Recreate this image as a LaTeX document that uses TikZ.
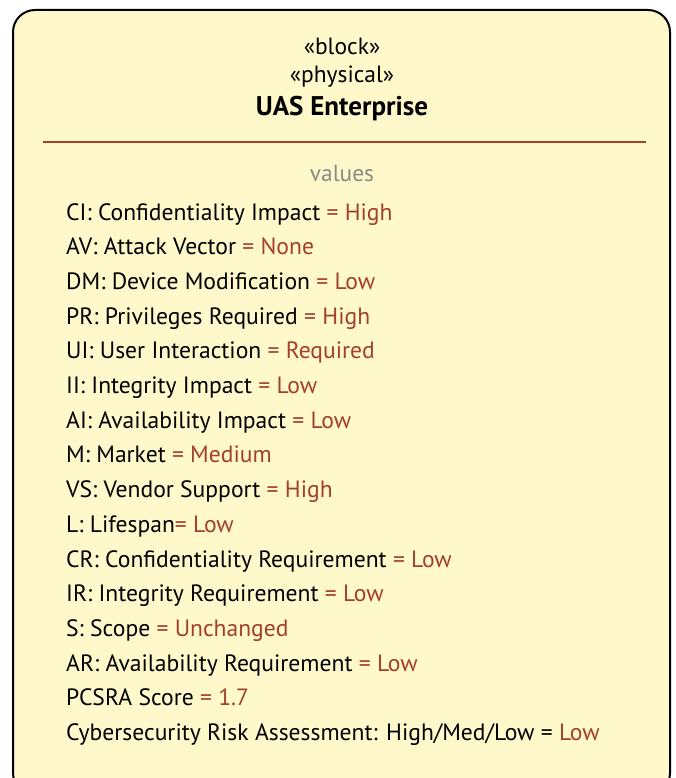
\documentclass[tikz,border=0pt]{standalone}
\usepackage{fontspec}
\setmainfont{PT Sans}
\definecolor{fillc}{HTML}{FFF8CB}
\definecolor{valc}{HTML}{A3402B}
\definecolor{grayc}{HTML}{8A8A8A}
\definecolor{sepc}{HTML}{A8412C}
\tikzset{
  hdr/.style={anchor=base, inner sep=0pt, font=\fontsize{23.5}{27}\selectfont},
  ttl/.style={anchor=base, inner sep=0pt, font=\fontsize{27}{31}\selectfont\bfseries},
  vhdr/.style={anchor=base, inner sep=0pt, text=grayc, font=\fontsize{23.4}{27}\selectfont},
  entry/.style={anchor=base west, inner sep=0pt, font=\fontsize{23.6}{27}\selectfont},
}
\newcommand{\vv}[1]{\textcolor{valc}{#1}}
\begin{document}
\begin{tikzpicture}[x=1pt,y=-1pt]
\useasboundingbox (0,0) rectangle (675,778);
\draw[line width=2pt, fill=fillc, rounded corners=22pt] (13,10) rectangle (670,795);
\node[hdr] (st1) at (342,55) {«block»};
\node[hdr] (st2) at (342,83) {«physical»};
\node[ttl] (name) at (342,116) {UAS Enterprise};
\coordinate (sepL) at (43,142);
\coordinate (sepR) at (646,142);
\draw[sepc, line width=1.8pt] (sepL) -- (sepR);
\node[vhdr] (vals) at (342,181) {values};
\node[entry] (l1) at (66,220) {CI: Confidentiality Impact \vv{= High}};
\node[entry] (l2) at (66,254.7) {AV: Attack Vector \vv{= None}};
\node[entry] (l3) at (66,289.4) {DM: Device Modification \vv{= Low}};
\node[entry] (l4) at (66,324.1) {PR: Privileges Required \vv{= High}};
\node[entry] (l5) at (66,358.8) {UI: User Interaction \vv{= Required}};
\node[entry] (l6) at (66,393.5) {II: Integrity Impact \vv{= Low}};
\node[entry] (l7) at (66,428.2) {AI: Availability Impact \vv{= Low}};
\node[entry] (l8) at (66,462.9) {M: Market \vv{= Medium}};
\node[entry] (l9) at (66,497.6) {VS: Vendor Support \vv{= High}};
\node[entry] (l10) at (66,532.3) {L: Lifespan\vv{= Low}};
\node[entry] (l11) at (66,567.0) {CR: Confidentiality Requirement \vv{= Low}};
\node[entry] (l12) at (66,601.7) {IR: Integrity Requirement \vv{= Low}};
\node[entry] (l13) at (66,636.4) {S: Scope \vv{= Unchanged}};
\node[entry] (l14) at (66,671.1) {AR: Availability Requirement \vv{= Low}};
\node[entry] (l15) at (66,705.8) {PCSRA Score \vv{= 1.7}};
\node[entry] (l16) at (66,740.5) {Cybersecurity Risk Assessment: High/Med/Low = \vv{Low}};
\end{tikzpicture}
\end{document}
